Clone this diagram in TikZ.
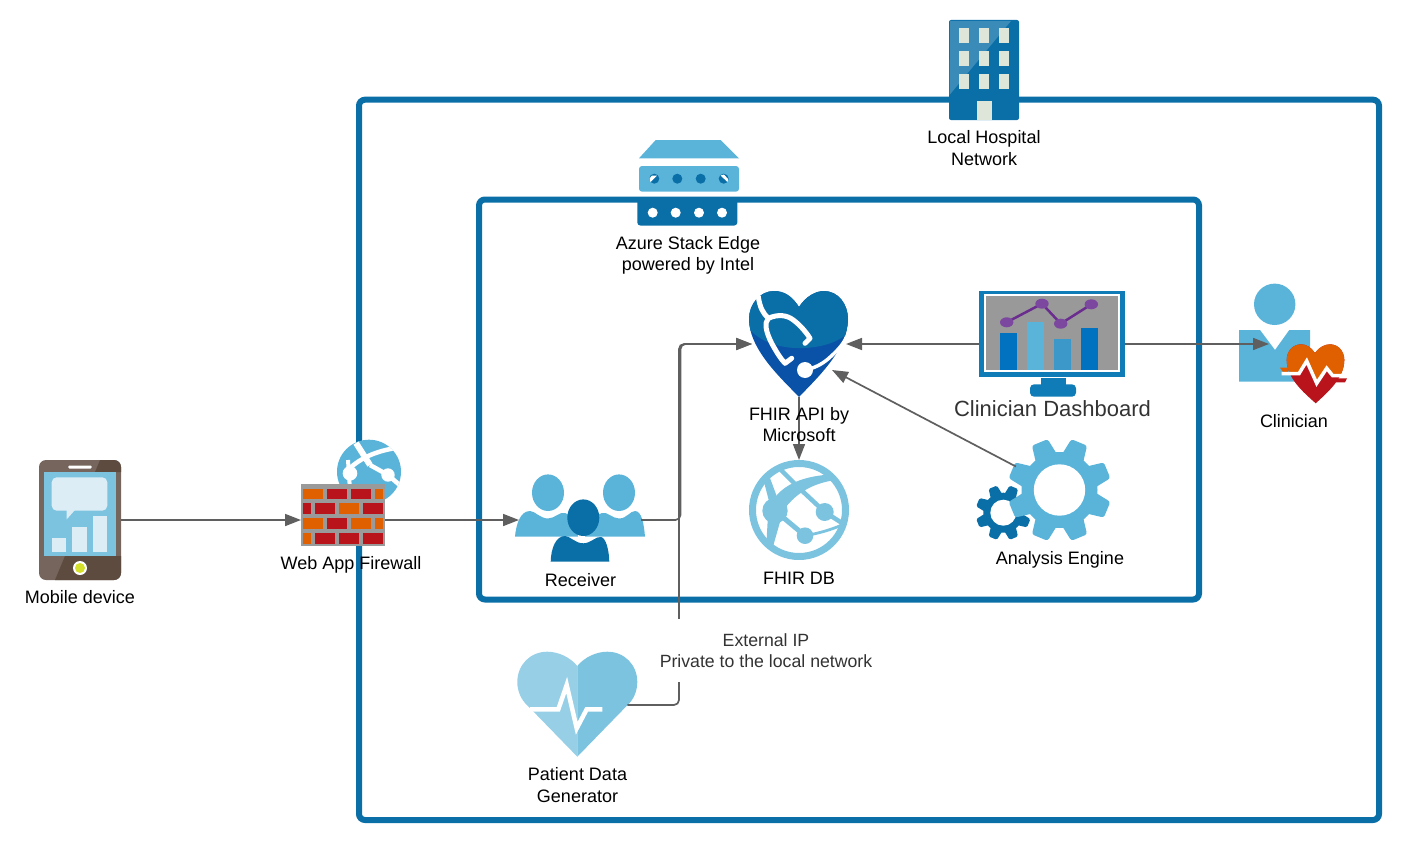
\documentclass[tikz,border=0pt]{standalone}
\usepackage{fontspec}
\setmainfont{Liberation Sans}
\usetikzlibrary{arrows.meta}
\definecolor{frameblue}{HTML}{0A6EA7}
\definecolor{skyblue}{HTML}{5AB4DA}
\definecolor{paleblue}{HTML}{7CC3E0}
\definecolor{paleblueb}{HTML}{97CFE6}
\definecolor{linkgray}{HTML}{5F5F5F}
\definecolor{brickor}{HTML}{E06000}
\definecolor{brickred}{HTML}{B9141C}
\definecolor{wallgray}{HTML}{9A9A9A}
\definecolor{winpale}{HTML}{DDE6D8}
\definecolor{brownA}{HTML}{75655C}
\definecolor{brownB}{HTML}{5D4B40}
\definecolor{bubble}{HTML}{DCEDF6}
\definecolor{monblue}{HTML}{0F7CB8}
\definecolor{barA}{HTML}{0072C0}
\definecolor{barC}{HTML}{3C98C8}
\definecolor{purpA}{HTML}{7B479F}
\definecolor{purpB}{HTML}{6A2D8F}
\definecolor{heartlow}{HTML}{0A52A8}
\definecolor{txtgray}{HTML}{333333}
\definecolor{monscreen}{HTML}{999999}
\definecolor{btnyellow}{HTML}{D4E02C}
\tikzset{
  framebox/.style={draw=frameblue,line width=6pt,rounded corners=6pt},
  pin/.style={inner sep=0pt,outer sep=0pt,minimum width=#1},
  conn/.style={draw=linkgray,line width=1.7pt,-{Triangle[length=16pt,width=12pt]},rounded corners=5pt},
  lbl/.style={align=center,inner sep=0pt,font=\fontsize{18}{21.5}\selectfont},
  gaugeline/.style={line cap=round,line join=round},
}
\begin{document}
\begin{tikzpicture}[x=1pt,y=-1pt]
\useasboundingbox (0,0) rectangle (1421,867);
% frames
\draw[framebox] (359,99.7) rectangle (1379,820);
\draw[framebox] (479,199.5) rectangle (1199,599.5);

% connection pins
\node[pin=82pt,minimum height=120pt] (phone) at (80,520) {};
\node[pin=84pt,minimum height=60pt] (wall) at (343,520) {};
\node[pin=122pt,minimum height=90pt] (recv) at (580,520) {};
\node[pin=94pt,minimum height=106pt] (fhir) at (799,344) {};
\node[pin=100pt,circle] (db) at (799,510) {};
\node[pin=146pt,minimum height=86pt] (dash) at (1052,344) {};
\node[pin=50pt,minimum height=60pt] (clin) at (1294,344) {};
\node[pin=98pt,circle] (engine) at (1059.3,489.3) {};
\node[pin=100pt,minimum height=100pt] (gen) at (577.3,705) {};
\coordinate (bend) at (680.5,344);
\coordinate (bendb) at (679,344);
\coordinate (fhirtip) at (832,370);

% hospital
\fill[frameblue,rounded corners=2pt] (949,20) rectangle (1019,120);
\fill[white,opacity=.2] (950,21) -- (1011,21) -- (949.5,95) -- cycle;
\foreach \wx in {959,979,999}{\foreach \wy in {28.3,51,74}{
  \fill[winpale] (\wx,\wy) rectangle ++(10,14.7);}}
\fill[winpale] (976.7,101) rectangle (991.7,120);

% stack edge
\fill[skyblue] (655.7,140) -- (720.7,140) -- (739,158.3) -- (639,158.3) -- cycle;
\fill[skyblue,rounded corners=3pt] (639,166) rectangle (739,191.7);
\foreach \dx in {654.3,677.3,700.7,723.7}{\fill[frameblue] (\dx,178.7) circle[radius=5];}
\fill[white] (650.5,182) -- (657,175.5) -- (652,175.5) -- (649.5,178.5) -- cycle;
\fill[white] (720.5,175.5) -- (727.5,182) -- (728,179) -- (724,174.5) -- cycle;
\fill[frameblue,rounded corners=3pt] (637.3,197) -- (737.3,197) -- (737.3,225.5) -- (637.3,225.5) -- cycle;
\foreach \dx in {652.7,675.7,699,722}{\fill[white] (\dx,212.7) circle[radius=5];}

% fhir heart
\begin{scope}
\clip (799,307) .. controls (806,296) and (816,291) .. (824,291) .. controls (838,291) and (848,304) .. (848,319) .. controls (848,350) and (815,380) .. (799,397) .. controls (783,380) and (749,350) .. (749,319) .. controls (749,304) and (760,291) .. (774,291) .. controls (784,291) and (792,296) .. (799,307) -- cycle;
\fill[heartlow] (740,285) rectangle (855,400);
\fill[frameblue] (740,285) -- (855,285) -- (855,332) -- (843,337) .. controls (825,350) and (775,356) .. (750,330) -- (740,325) -- cycle;
\end{scope}
\draw[white,line width=5pt,gaugeline] (758.3,296.7) .. controls (760,308) and (763,313) .. (768.3,318.3) .. controls (778,314) and (787,315) .. (793.3,320) .. controls (800,325) and (806,332) .. (810,338.3) -- (805,343.3);
\draw[white,line width=5pt,gaugeline] (768.3,318.3) .. controls (764,323) and (766,332) .. (771.7,343.3) .. controls (776,351) and (780,358) .. (785,363.3) -- (791.7,358.3);
\draw[white,line width=3.5pt,gaugeline] (805,370) .. controls (815,368) and (822,364) .. (828,359) .. controls (837,351) and (843,345) .. (846.7,336.7);
\fill[white] (805,370) circle[radius=8];

% dashboard
\fill[monblue] (979,290.7) rectangle (1125,376.7);
\fill[white] (984,294) rectangle (1120,371.7);
\fill[monscreen] (986,296) rectangle (1117.7,370);
\fill[barA] (1000,332.7) rectangle (1017.3,370);
\fill[skyblue] (1027,322.3) rectangle (1044.3,370);
\fill[barC] (1054,339) rectangle (1071,370);
\fill[barA] (1081,327.7) rectangle (1098,370);
\draw[purpB,line width=2.5pt] (1006.7,322.3) -- (1042,303.7) -- (1060.7,323.7) -- (1091.3,304.3);
\foreach \px/\py in {1006.7/322.3,1042/303.7,1060.7/323.7,1091.3/304.3}{
  \fill[purpA] (\px,\py) ellipse[x radius=6.7,y radius=5];}
\fill[monblue] (1040.7,377.7) rectangle (1066,388);
\fill[monblue,rounded corners=4pt] (1030,384.3) rectangle (1076,396.7);

% clinician
\fill[skyblue] (1274.7,304.3) circle[radius=20.7];
\fill[skyblue] (1239,330) -- (1260,330) -- (1275,350) -- (1289.3,330) -- (1310,330) -- (1310,381.7) -- (1239,381.7) -- cycle;
\begin{scope}
\clip (1315,353) .. controls (1319,347) and (1325,344.3) .. (1330,344.3) .. controls (1338,344.3) and (1344.3,351) .. (1344.3,360) .. controls (1344.3,378) and (1328,392) .. (1315.7,403.3) .. controls (1303,392) and (1286.7,378) .. (1286.7,360) .. controls (1286.7,351) and (1293,344.3) .. (1301,344.3) .. controls (1306,344.3) and (1311,347) .. (1315,353) -- cycle;
\fill[brickred] (1280,340) rectangle (1350,405);
\fill[brickor] (1280,340) -- (1350,340) -- (1350,375.7) -- (1332.7,375.7) -- (1326.7,368.3) -- (1316.7,383.3) -- (1306.7,361) -- (1299,373.3) -- (1280,373.3) -- cycle;
\end{scope}
\fill[brickor] (1280,367.7) -- (1288,367.7) -- (1288,372) -- (1283,372) -- cycle;
\fill[brickred] (1333.3,378.3) -- (1347,378.3) -- (1345,382.3) -- (1336,382.3) -- cycle;
\draw[white,line width=3.5pt,line join=miter] (1281.7,373.6) -- (1299,373.6) -- (1306.7,361) -- (1316.7,383.3) -- (1326.7,368.3) -- (1332.7,375.7) -- (1345,375.7);

% gears
\foreach \ga in {22.5,67.5,...,337.5}{
  \begin{scope}[shift={(1003.3,512.7)},rotate=\ga]
  \fill[frameblue,rounded corners=1.5pt] (-6.5,-15) -- (-4.5,-27.5) -- (4.5,-27.5) -- (6.5,-15) -- cycle;
  \end{scope}}
\fill[frameblue] (1003.3,512.7) circle[radius=20];
\fill[white] (1003.3,512.7) circle[radius=13];
\foreach \ga in {22.5,67.5,...,337.5}{
  \begin{scope}[shift={(1059.5,490)},rotate=\ga]
  \fill[skyblue,rounded corners=2.5pt] (-12,-30) -- (-8.5,-51.5) -- (8.5,-51.5) -- (12,-30) -- cycle;
  \end{scope}}
\fill[skyblue] (1059.5,490) circle[radius=38];
\fill[white] (1059.5,490) circle[radius=25.7];

% database globe
\draw[paleblue,line width=7pt] (799,510) circle[radius=46.5];
\begin{scope}
\clip (799,510) circle[radius=47];
\fill[paleblue] (770,505) .. controls (782,482) and (808,474) .. (845,474) -- (845,479) .. controls (815,481) and (795,492) .. (780,515) -- cycle;
\draw[paleblue,line width=4.5pt] (781,470) -- (798,487) -- (824.7,512) -- (842,523);
\draw[paleblue,line width=5pt] (775,510.7) -- (805,535.7);
\draw[paleblue,line width=2.8pt] (805,535.7) .. controls (820,533) and (830,530) .. (842,525);
\fill[paleblue] (768,515) -- (782,515) -- (772,550) -- (766,550) -- cycle;
\fill[paleblue] (764,482) -- (770,478) -- (780,505) -- (770,505) -- cycle;
\end{scope}
\fill[paleblue] (775,510.7) circle[radius=12.7];
\fill[paleblue] (824.7,512) circle[radius=9];
\fill[paleblue] (805,535.7) circle[radius=8.3];

% receiver
\fill[skyblue] (515,536.7) .. controls (516,525) and (520,511) .. (530,511) .. controls (535,511) and (540,518.5) .. (548,518.5) .. controls (555,518.5) and (560,511) .. (565,513) .. controls (573,515) and (577,530) .. (578,536.7) -- cycle;
\fill[skyblue] (645,536.7) .. controls (644,525) and (642,511) .. (635,511) .. controls (630,511) and (627,518.5) .. (619,518.5) .. controls (612,518.5) and (607,511) .. (602,513) .. controls (594,515) and (588,530) .. (585,536.7) -- cycle;
\fill[skyblue] (548,492.7) ellipse[x radius=16,y radius=18.3];
\fill[skyblue] (619,492.7) ellipse[x radius=16,y radius=18.3];
\fill[frameblue] (583.3,517.7) ellipse[x radius=16,y radius=18.3];
\fill[frameblue] (550.7,561.7) .. controls (551,548) and (556,536) .. (565,536) .. controls (570,536) and (575,543.3) .. (583.3,543.3) .. controls (591,543.3) and (596,536) .. (601,537) .. controls (606,538) and (609,550) .. (609.3,561.7) -- cycle;

% firewall and its globe
\fill[skyblue] (369,471.7) circle[radius=32];
\begin{scope}
\clip (369,471.7) circle[radius=32];
\draw[white,line width=6pt] (356,443) -- (370,465);
\draw[white,line width=4.5pt] (370,465) -- (388,475) -- (402,487);
\draw[white,line width=4.5pt] (345,473) .. controls (355,462) and (370,452) .. (396,448);
\draw[white,line width=4pt] (348,460) -- (350,490);
\end{scope}
\fill[white] (350,473.3) circle[radius=7.3];
\fill[white] (388,475) circle[radius=6.7];
\fill[wallgray] (301,484.3) rectangle (385,545.7);
\foreach \bx/\by/\bxx/\byy/\bc in {
  303/489/323/499/brickor,327/489/347/499/brickred,351/489/371/499/brickred,375/489/383/499/brickor,
  303/503/311/514/brickred,315/503/335/514/brickred,339/503/359/514/brickor,363/503/383/514/brickred,
  303/518.3/323/529/brickor,327/518.3/347/529/brickred,351/518.3/371/529/brickor,375/518.3/383/529/brickor,
  303/533/311/543.7/brickor,315/533/335/543.7/brickred,339/533/359/543.7/brickred,363/533/383/543.7/brickred}{
  \fill[\bc] (\bx,\by) rectangle (\bxx,\byy);}

% phone
\fill[brownA,rounded corners=7pt] (39,460) rectangle (121,580);
\begin{scope}
\clip[rounded corners=7pt] (39,460) rectangle (121,580);
\fill[brownB] (55,580) -- (65,556) -- (121,556) -- (121,580) -- cycle;
\fill[brownB] (100,460) -- (95,472) -- (121,472) -- (121,460) -- cycle;
\end{scope}
\fill[paleblue] (44,472.3) rectangle (116,556);
\fill[white,rounded corners=1pt] (68.3,465.5) rectangle (91.7,468.5);
\fill[bubble,rounded corners=5pt] (51.7,477.3) rectangle (107.3,510.7);
\fill[bubble] (66.7,505) -- (66.7,519.3) -- (75,510) -- cycle;
\fill[bubble] (51.7,537.7) rectangle (66,552);
\fill[bubble] (72.3,527.3) rectangle (86.7,552);
\fill[bubble] (93,516) rectangle (107.3,552);
\fill[white] (80,568) circle[radius=7];
\fill[btnyellow] (80,568) circle[radius=5];

% patient heart
\fill[paleblueb] (577.3,756.7) -- (528,706) .. controls (521,700) and (517.3,691) .. (517.3,682) .. controls (517.3,665) and (530,651.7) .. (547.3,651.7) .. controls (558,651.7) and (570,657) .. (577.3,666) -- cycle;
\fill[paleblue] (577.3,756.7) -- (626.6,706) .. controls (633.6,700) and (637.3,691) .. (637.3,682) .. controls (637.3,665) and (624.6,651.7) .. (607.3,651.7) .. controls (596.6,651.7) and (584.6,657) .. (577.3,666) -- cycle;
\draw[white,line width=4.5pt,line join=miter] (530,709.3) -- (558.3,709.3) -- (566.7,685) -- (576.7,728.3) -- (586.7,709.3) -- (602.3,709.3);

% connectors
\draw[conn] (phone.east) -- (wall.west);
\draw[conn] (wall.east) -- (recv.west);
\draw[conn] (recv.east) -- (bend |- recv.east) -- (bend) -- (fhir.west);
\draw[conn] (gen.east) -- (bendb |- gen.east) -- (bendb) -- (fhir.west);
\draw[conn] (dash.west) -- (fhir.east);
\draw[conn] (dash.east) -- (clin.west);
\draw[conn] (fhir.south) -- (db.north);
\draw[conn] (engine) -- (fhirtip);

% labels
\node[lbl] (l1) at (984,148) {Local Hospital\\Network};
\node[lbl] (l2) at (688,255.5) {Azure Stack Edge\\powered by Intel};
\node[lbl] (l3) at (799,424.5) {FHIR API by\\Microsoft};
\node[lbl,text=txtgray,font=\fontsize{22}{26}\selectfont] (l4) at (1052.5,409) {Clinician Dashboard};
\node[lbl] (l5) at (1294,421) {Clinician};
\node[lbl] (l6) at (1060,560) {Analysis Engine};
\node[lbl] (l7) at (799,578) {FHIR DB};
\node[lbl] (l8) at (580.5,580) {Receiver};
\node[lbl] (l9) at (351,565) {Web App Firewall};
\node[lbl] (l10) at (80,597) {Mobile device};
\node[lbl,text=txtgray,fill=white,minimum height=63pt,inner xsep=3pt,font=\fontsize{17.7}{21.2}\selectfont] (l11) at (766,650.5) {External IP\\Private to the local network};
\node[lbl] (l12) at (577.5,785) {Patient Data\\Generator};
\end{tikzpicture}
\end{document}
